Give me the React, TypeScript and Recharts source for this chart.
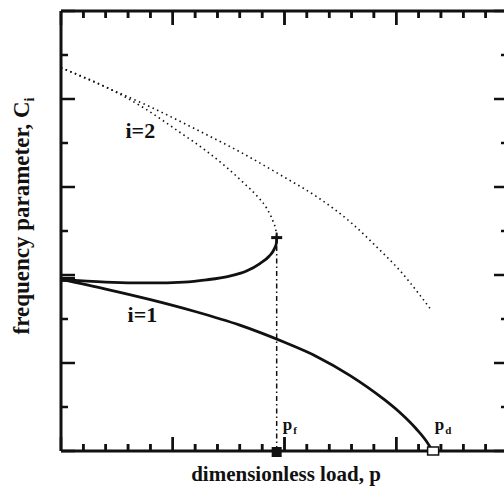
import React from "react";
import {
  ComposedChart,
  Line,
  XAxis,
  YAxis,
  ReferenceDot,
  ReferenceLine,
} from "recharts";

const SERIF = "'Liberation Serif', 'Times New Roman', serif";
const INK = "#111";

// axis ticks (minor every unit, long ticks on majors)
const xTicks = [0, 1, 2, 3, 4, 5, 6, 7, 8, 9, 10, 11, 12, 13, 14, 15, 16, 17, 18, 19, 20];
const yTicks = [0, 1, 2, 3, 4, 5, 6, 7, 8, 9, 10];
// load values that get a tick mark on the top and bottom edges of the frame
const frameTickLoads = [1, 2, 3, 4, 5, 6, 7, 8, 9, 10, 11, 12, 13, 14, 15, 16, 17, 18, 19];

// i=1, solid, down to the divergence load
const modeOne = [
  [0, 3.9], [2, 3.68], [4, 3.44], [6, 3.17], [8, 2.86], [10, 2.47],
  [11.43, 2.15], [12.92, 1.72], [14.41, 1.19], [15.15, 0.88],
  [15.9, 0.5], [16.35, 0.22], [16.62, 0],
];

// i=2, solid part up to the flutter fold
const modeTwoSolid = [
  [0, 3.9], [2, 3.84], [4, 3.82], [5.5, 3.84], [6.5, 3.89], [7.5, 3.97],
  [8.3, 4.09], [8.9, 4.26], [9.3, 4.42], [9.55, 4.6], [9.64, 4.73],
  [9.65, 4.85],
];

// i=2, dotted part coming back from the fold
const modeTwoDotted = [
  [0, 8.71], [2.1, 8.25], [3.6, 7.83], [5.3, 7.25], [6.5, 6.82],
  [7.4, 6.45], [8.2, 6.08], [8.8, 5.78], [9.2, 5.52], [9.5, 5.2],
  [9.62, 5.0], [9.65, 4.85],
];

// upper dotted branch
const upperDotted = [
  [0, 8.71], [2, 8.27], [4, 7.82], [6, 7.32], [8, 6.8], [10, 6.22],
  [11.5, 5.76], [13, 5.18], [14.2, 4.6], [15.2, 4.08], [16, 3.58],
  [16.57, 3.2],
];

const startFreq = 3.9;
const flutterLoad = 9.65;
const foldFreq = 4.85;
const divergenceLoad = 16.65;

// where the curve names sit, in data units
const curveLabels = [
  { text: "i=2", x: 3.55, y: 7.29 },
  { text: "i=1", x: 3.64, y: 3.1 },
];
const loadLabels = [
  { main: "p", sub: "f", x: 9.92, y: 0.47 },
  { main: "p", sub: "d", x: 16.72, y: 0.47 },
];

const toPoints = (pairs: number[][]) => pairs.map(([x, y]) => ({ x, y }));

const xTickLen = (v: number) => (Number(v) % 5 === 0 ? 14 : 7);

const BottomTick = ({ x, y, payload }: any) => (
  <line x1={x} x2={x} y1={y} y2={y - xTickLen(payload.value)} stroke={INK} strokeWidth={2.5} />
);
const TopTick = ({ x, y, payload }: any) => (
  <line x1={x} x2={x} y1={y} y2={y + xTickLen(payload.value)} stroke={INK} strokeWidth={2.5} />
);
const LeftTick = ({ x, y, payload }: any) => (
  <line x1={x} x2={x + (payload.value % 2 === 0 ? 14 : 7)} y1={y} y2={y} stroke={INK} strokeWidth={2.5} />
);
const RightTick = ({ x, y, payload }: any) => (
  <line x1={x} x2={x - (payload.value % 2 === 0 ? 14 : 7)} y1={y} y2={y} stroke={INK} strokeWidth={2.5} />
);

const axisLine = { stroke: INK, strokeWidth: 3 };

export default function App() {
  return (
    <div style={{ position: "absolute", left: 0, top: 0, width: 504, height: 491, overflow: "hidden", background: "#fff" }}>
      <ComposedChart
        width={520}
        height={491}
        data={toPoints(modeOne)}
        margin={{ top: 10, right: 11, bottom: 39, left: 60 }}
      >
        <XAxis
          dataKey="x"
          type="number"
          domain={[0, 20]}
          ticks={xTicks}
          interval={0}
          height={1}
          tickSize={0}
          tickMargin={0}
          tickLine={false}
          tick={<BottomTick />}
          axisLine={axisLine}
          allowDataOverflow
        />
        <XAxis
          xAxisId="top"
          orientation="top"
          dataKey="x"
          type="number"
          domain={[0, 20]}
          ticks={xTicks}
          interval={0}
          height={1}
          tickSize={0}
          tickMargin={0}
          tickLine={false}
          tick={<TopTick />}
          axisLine={axisLine}
          allowDataOverflow
        />
        <YAxis
          type="number"
          domain={[0, 10]}
          ticks={yTicks}
          interval={0}
          width={1}
          tickSize={0}
          tickMargin={0}
          tickLine={false}
          tick={<LeftTick />}
          axisLine={axisLine}
          allowDataOverflow
        />
        <YAxis
          yAxisId="right"
          orientation="right"
          type="number"
          domain={[0, 10]}
          ticks={yTicks}
          interval={0}
          width={1}
          tickSize={0}
          tickMargin={0}
          tickLine={false}
          tick={<RightTick />}
          axisLine={axisLine}
          allowDataOverflow
        />

        <ReferenceLine
          segment={[{ x: flutterLoad, y: 0 }, { x: flutterLoad, y: foldFreq }]}
          stroke={INK}
          strokeWidth={1.5}
          strokeDasharray="5 3 1.5 3"
        />

        {/* same domains on both axis pairs, so this series also feeds the top/right axes */}
        <Line data={toPoints(upperDotted)} xAxisId="top" yAxisId="right" dataKey="y" type="monotone" stroke={INK} strokeWidth={1.6} strokeDasharray="1.5 3.5" dot={false} activeDot={false} isAnimationActive={false} />
        <Line data={toPoints(modeTwoDotted)} dataKey="y" type="monotone" stroke={INK} strokeWidth={1.6} strokeDasharray="1.5 3.5" dot={false} activeDot={false} isAnimationActive={false} />
        <Line data={toPoints(modeTwoSolid)} dataKey="y" type="monotone" stroke={INK} strokeWidth={2.8} dot={false} activeDot={false} isAnimationActive={false} />
        <Line dataKey="y" type="monotone" stroke={INK} strokeWidth={2.8} dot={false} activeDot={false} isAnimationActive={false} />

        {/* tick marks on the bottom and top edges */}
        {frameTickLoads.map((t, i) => (
          <ReferenceDot
            key={"bottom-" + i}
            x={t}
            y={0}
            r={1}
            shape={(p: any) => <rect x={p.cx - 1.25} y={p.cy - xTickLen(t)} width={2.5} height={xTickLen(t)} fill={INK} />}
          />
        ))}
        {frameTickLoads.map((t, i) => (
          <ReferenceDot
            key={"top-" + i}
            x={t}
            y={10}
            r={1}
            shape={(p: any) => <rect x={p.cx - 1.25} y={p.cy} width={2.5} height={xTickLen(t)} fill={INK} />}
          />
        ))}

        {/* markers */}
        <ReferenceDot x={0} y={startFreq} r={1} shape={(p: any) => <rect x={p.cx} y={p.cy - 2.5} width={14} height={5} fill={INK} />} />
        <ReferenceDot
          x={flutterLoad}
          y={foldFreq}
          r={1}
          shape={(p: any) => (
            <g>
              <rect x={p.cx - 5.5} y={p.cy - 1.5} width={11} height={3} fill={INK} />
              <rect x={p.cx - 1} y={p.cy - 5} width={2} height={10} fill={INK} />
            </g>
          )}
        />
        <ReferenceDot x={flutterLoad} y={0} r={1} shape={(p: any) => <rect x={p.cx - 5} y={p.cy - 4} width={10} height={10} fill={INK} />} />
        <ReferenceDot x={divergenceLoad} y={0} r={1} shape={(p: any) => <rect x={p.cx - 5.5} y={p.cy - 4} width={11} height={8} fill="#fff" stroke={INK} strokeWidth={1.5} />} />

        {curveLabels.map((l) => (
          <ReferenceDot
            key={l.text}
            x={l.x}
            y={l.y}
            r={1}
            shape={(p: any) => (
              <text x={p.cx} y={p.cy} textAnchor="middle" dominantBaseline="central" fontFamily={SERIF} fontWeight="bold" fontSize={22} fill={INK}>
                {l.text}
              </text>
            )}
          />
        ))}
        {loadLabels.map((l) => (
          <ReferenceDot
            key={l.sub}
            x={l.x}
            y={l.y}
            r={1}
            shape={(p: any) => (
              <text x={p.cx} y={p.cy} fontFamily={SERIF} fontWeight="bold" fontSize={17} fill={INK}>
                {l.main}
                <tspan fontSize={11} dy={4} dx={1}>{l.sub}</tspan>
              </text>
            )}
          />
        ))}

        <text x={286} y={481} textAnchor="middle" fontFamily={SERIF} fontWeight="bold" fontSize={21} fill={INK}>
          dimensionless load, p
        </text>
        <text x={29} y={216} textAnchor="middle" transform="rotate(-90 29 216)" fontFamily={SERIF} fontWeight="bold" fontSize={23} fill={INK}>
          frequency parameter, C
          <tspan fontSize={14} dy={5}>i</tspan>
        </text>
      </ComposedChart>
    </div>
  );
}
